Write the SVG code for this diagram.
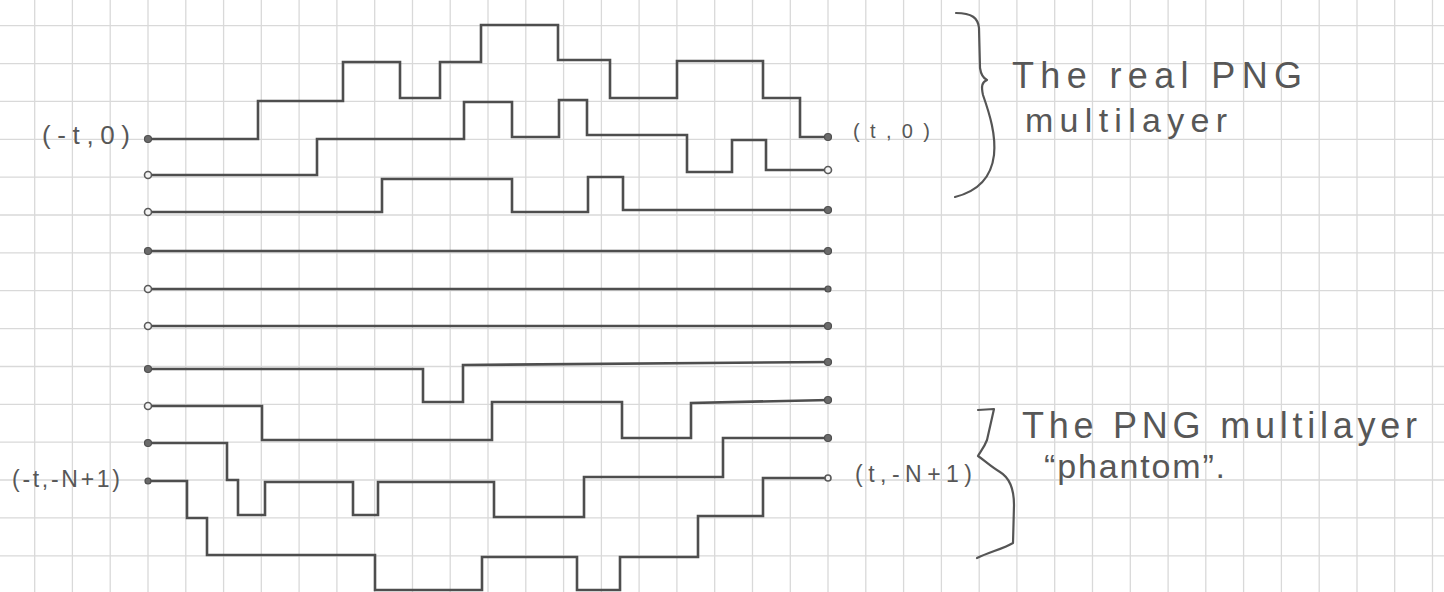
<svg xmlns="http://www.w3.org/2000/svg" width="1444" height="592" viewBox="0 0 1444 592">
<style>
.grid{fill:none;stroke:#d9d9d9;stroke-width:1.3}
.wave{fill:none;stroke:#4e4e4e;stroke-width:2.6;stroke-linejoin:miter;stroke-linecap:square}
.dot{fill:#6a6a6a;stroke:#4e4e4e;stroke-width:1.2}
.odot{fill:#f4f4f4;stroke:#5a5a5a;stroke-width:1.6}
.brace{fill:none;stroke:#555;stroke-width:2.2;stroke-linecap:round;stroke-linejoin:round}
.lbl{font-family:"Liberation Sans","DejaVu Sans",sans-serif;fill:#575757}
</style>
<rect width="1444" height="592" fill="#ffffff"/>
<g id="grid">
<path class="grid" d="M34.7,0V592M72.4,0V592M110.2,0V592M148,0V592M185.8,0V592M223.6,0V592M261.3,0V592M299.1,0V592M336.9,0V592M374.7,0V592M412.5,0V592M450.2,0V592M488,0V592M525.8,0V592M563.6,0V592M601.4,0V592M639.1,0V592M676.9,0V592M714.7,0V592M752.5,0V592M790.3,0V592M828,0V592M865.8,0V592M903.6,0V592M941.4,0V592M979.2,0V592M1016.9,0V592M1054.7,0V592M1092.5,0V592M1130.3,0V592M1168.1,0V592M1205.8,0V592M1243.6,0V592M1281.4,0V592M1319.2,0V592M1357,0V592M1394.7,0V592M1432.5,0V592"/>
<path class="grid" d="M0,25.7H1444M0,63.6H1444M0,101.4H1444M0,139.3H1444M0,177.2H1444M0,215H1444M0,252.9H1444M0,290.7H1444M0,328.6H1444M0,366.5H1444M0,404.3H1444M0,442.2H1444M0,480H1444M0,517.9H1444M0,555.8H1444"/>
</g>
<g id="connectors">
<g id="layer-0"><path class="wave" d="M148,139H258V101H343V62H400V98H440V62H481V25H558V60H610V98H677V61H763V98H800V137H828"/></g>
<g id="layer-1"><path class="wave" d="M148,175H317V139H464V102H512V137H559V100H587V135H687V172H732V140H766V170H828"/></g>
<g id="layer-2"><path class="wave" d="M148,212H382V179H512V212H588V177H623V210H828"/></g>
<g id="layer-3"><path class="wave" d="M148,251H828"/></g>
<g id="layer-4"><path class="wave" d="M148,289H828"/></g>
<g id="layer-5"><path class="wave" d="M148,326H828"/></g>
<g id="layer-6"><path class="wave" d="M148,369H423V402H463V365L828,362"/></g>
<g id="layer-7"><path class="wave" d="M148,406H262V440H492V402H622V438H691V403L828,400"/></g>
<g id="layer-8"><path class="wave" d="M148,443H227V480H238V515H265V482H353V515H378V482H494V517H584V477H723V438H828"/></g>
<g id="layer-9"><path class="wave" d="M148,481H187V518H207V555H375V590H482V557H577V590H620V557H698V516H763V478H828"/></g>
</g>
<g id="endpoints">
<circle class="dot" cx="148" cy="139" r="3.5"/>
<circle class="odot" cx="148" cy="175" r="3.5"/>
<circle class="odot" cx="148" cy="212" r="3.5"/>
<circle class="dot" cx="148" cy="251" r="3.5"/>
<circle class="odot" cx="148" cy="289" r="3.5"/>
<circle class="odot" cx="148" cy="326" r="3.5"/>
<circle class="dot" cx="148" cy="369" r="3.5"/>
<circle class="odot" cx="148" cy="406" r="3.5"/>
<circle class="dot" cx="148" cy="443" r="3.5"/>
<circle class="dot" cx="148" cy="481" r="3"/>
<circle class="dot" cx="828" cy="137" r="3.5"/>
<circle class="odot" cx="828" cy="170" r="3.5"/>
<circle class="dot" cx="828" cy="210" r="3.5"/>
<circle class="dot" cx="828" cy="251" r="3.5"/>
<circle class="dot" cx="828" cy="289" r="3"/>
<circle class="dot" cx="828" cy="326" r="3.5"/>
<circle class="dot" cx="828" cy="362" r="3.5"/>
<circle class="dot" cx="828" cy="400" r="3.5"/>
<circle class="dot" cx="828" cy="438" r="3.5"/>
<circle class="odot" cx="828" cy="478" r="3"/>
</g>
<g id="label-start-top"><text class="lbl" x="42" y="144" font-size="26" textLength="88" lengthAdjust="spacing">(-t,0)</text></g>
<g id="label-start-bottom"><text class="lbl" x="12" y="487" font-size="23" textLength="108" lengthAdjust="spacing">(-t,-N+1)</text></g>
<g id="label-end-top"><text class="lbl" x="853" y="138" font-size="20" textLength="77" lengthAdjust="spacing">(t,0)</text></g>
<g id="label-end-bottom"><text class="lbl" x="855" y="482" font-size="23" textLength="117" lengthAdjust="spacing">(t,-N+1)</text></g>
<g id="real-png">
<path class="brace" d="M956,13C972,13 978,18 979,28L980,68C981,75 983,78 987,80C982,82 981,86 983,95C990,115 996,135 994,155C991,180 975,192 955,197"/>
<text class="lbl" x="1012" y="88" font-size="36" textLength="290" lengthAdjust="spacing">The real PNG</text>
<text class="lbl" x="1025" y="132" font-size="34" textLength="202" lengthAdjust="spacing">multilayer</text>
</g>
<g id="phantom-png">
<path class="brace" d="M978,410L994,409L987,440C984,448 980,452 978,456C984,460 990,466 1000,472C1010,478 1014,490 1014,505L1013,543C1005,548 990,552 977,558"/>
<text class="lbl" x="1022" y="438" font-size="36" textLength="395" lengthAdjust="spacing">The PNG multilayer</text>
<text class="lbl" x="1044" y="478" font-size="34" textLength="181" lengthAdjust="spacing">“phantom”.</text>
</g>
</svg>
